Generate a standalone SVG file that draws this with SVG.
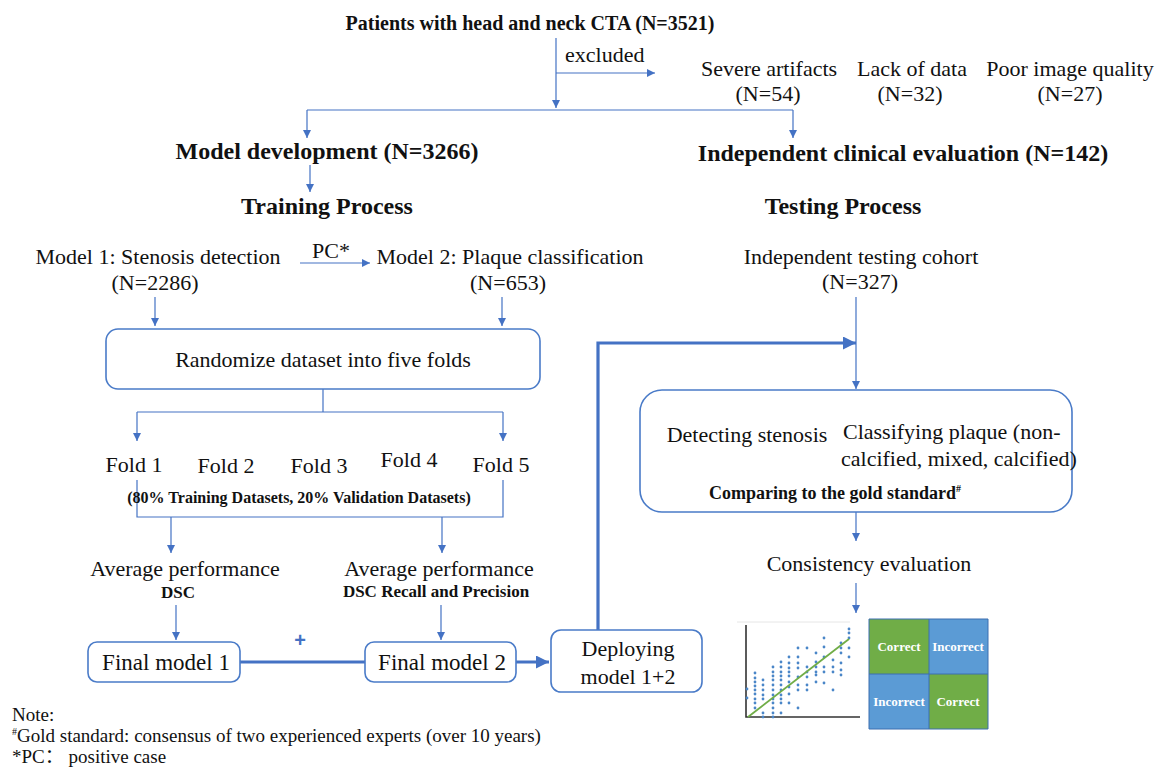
<svg xmlns="http://www.w3.org/2000/svg" width="1156" height="768" viewBox="0 0 1156 768">
<defs>
<style>
text{font-family:"Liberation Serif","Times New Roman","Noto Sans CJK SC",serif;fill:#111;}
.r{font-size:22px;}
.b{font-size:24px;font-weight:bold;}
.s{font-size:17px;font-weight:bold;}
.n{font-size:19px;}
.c{font-size:13px;font-weight:bold;fill:#fff;}
.m{text-anchor:middle;}
.ln{stroke:#4472c4;stroke-width:1.2;fill:none;}
.th{stroke:#4472c4;stroke-width:3.2;fill:none;}
.box{stroke:#4a7bc8;stroke-width:1.6;fill:#fff;}
.dot{fill:#4a86c8;}
</style>
<marker id="a" viewBox="0 0 10 10" refX="10" refY="5" markerWidth="8" markerHeight="8" markerUnits="userSpaceOnUse" orient="auto"><path d="M0,0 L10,5 L0,10 z" fill="#4472c4"/></marker>
<marker id="A" viewBox="0 0 10 10" refX="10" refY="5" markerWidth="13" markerHeight="13" markerUnits="userSpaceOnUse" orient="auto"><path d="M0,0 L10,5 L0,10 z" fill="#4472c4"/></marker>
</defs>
<rect width="1156" height="768" fill="#fff"/>

<g id="connectors">
<path class="ln" d="M556,38 V108" marker-end="url(#a)"/>
<path class="ln" d="M556,73 H655" marker-end="url(#a)"/>
<path class="ln" d="M307,110 H793"/>
<path class="ln" d="M307,110 V138" marker-end="url(#a)"/>
<path class="ln" d="M793,110 V138" marker-end="url(#a)"/>
<path class="ln" d="M310,165 V192" marker-end="url(#a)"/>
<path class="ln" d="M300,263 H370" marker-end="url(#a)"/>
<path class="ln" d="M155,297 V326" marker-end="url(#a)"/>
<path class="ln" d="M502,297 V326" marker-end="url(#a)"/>
<path class="ln" d="M323,389 V412"/>
<path class="ln" d="M137,412 H503"/>
<path class="ln" d="M137,412 V441" marker-end="url(#a)"/>
<path class="ln" d="M503,412 V441" marker-end="url(#a)"/>
<path class="ln" d="M137,480 V517 H503 V480"/>
<path class="ln" d="M171,517 V553" marker-end="url(#a)"/>
<path class="ln" d="M442,517 V553" marker-end="url(#a)"/>
<path class="ln" d="M176,605 V640" marker-end="url(#a)"/>
<path class="ln" d="M441,605 V640" marker-end="url(#a)"/>
<path class="th" d="M240,662 H365"/>
<path class="th" d="M516,662 H549" marker-end="url(#A)"/>
<path class="th" d="M598,630 V343 H856" marker-end="url(#A)"/>
<path class="ln" d="M856,297 V389" marker-end="url(#a)"/>
<path class="ln" d="M856,512 V541" marker-end="url(#a)"/>
<path class="ln" d="M856,583 V613" marker-end="url(#a)"/>
</g>

<g id="title"><text class="m" x="530" y="30" style="font-size:20px;font-weight:bold">Patients with head and neck CTA (N=3521)</text></g>
<g id="excluded"><text class="r" x="565" y="62">excluded</text></g>
<g id="severe"><text class="r m" x="769" y="76">Severe artifacts</text><text class="r m" x="768" y="101">(N=54)</text></g>
<g id="lack"><text class="r m" x="912" y="76">Lack of data</text><text class="r m" x="910" y="101">(N=32)</text></g>
<g id="poor"><text class="r m" x="1070" y="76">Poor image quality</text><text class="r m" x="1070" y="101">(N=27)</text></g>

<g id="model-dev"><text class="b m" x="327" y="159">Model development (N=3266)</text></g>
<g id="training"><text class="b m" x="327" y="214">Training Process</text></g>
<g id="indep"><text class="b m" x="903" y="161">Independent clinical evaluation (N=142)</text></g>
<g id="testing"><text class="b m" x="843" y="214">Testing Process</text></g>

<g id="model1"><text class="r m" x="158" y="264">Model 1: Stenosis detection</text><text class="r m" x="155" y="290">(N=2286)</text></g>
<g id="pc"><text class="r" x="312" y="258">PC*</text></g>
<g id="model2"><text class="r m" x="510" y="264">Model 2: Plaque classification</text><text class="r m" x="508" y="290">(N=653)</text></g>

<g id="randomize"><rect class="box" x="106" y="329" width="434" height="60" rx="12"/><text class="r m" x="323" y="367">Randomize dataset into five folds</text></g>

<g id="folds">
<text class="r m" x="134" y="472">Fold 1</text>
<text class="r m" x="226" y="473">Fold 2</text>
<text class="r m" x="319" y="473">Fold 3</text>
<text class="r m" x="409" y="467">Fold 4</text>
<text class="r m" x="501" y="472">Fold 5</text>
<text class="m" x="299" y="503" style="font-size:16px;font-weight:bold">(80% Training Datasets, 20% Validation Datasets)</text>
</g>

<g id="avg1"><text class="r m" x="185" y="576">Average performance</text><text class="s m" x="178" y="598">DSC</text></g>
<g id="avg2"><text class="r m" x="439" y="576">Average performance</text><text class="s m" x="436" y="597">DSC Recall and Precision</text></g>

<g id="final1"><rect class="box" x="88" y="642" width="152" height="40" rx="9"/><text class="m" x="166" y="670" style="font-size:23px">Final model 1</text></g>
<g id="plus"><text class="m" x="300" y="647" style="font-family:'Liberation Sans',Arial,sans-serif;font-size:20px;font-weight:bold;fill:#4472c4">+</text></g>
<g id="final2"><rect class="box" x="365" y="642" width="151" height="40" rx="9"/><text class="m" x="442" y="670" style="font-size:23px">Final model 2</text></g>
<g id="deploy"><rect class="box" x="551" y="630" width="151" height="62" rx="10"/><text class="r m" x="628" y="656">Deploying</text><text class="r m" x="628" y="684">model 1+2</text></g>

<g id="cohort"><text class="r m" x="861" y="264">Independent testing cohort</text><text class="r m" x="860" y="289">(N=327)</text></g>

<g id="evalbox"><rect class="box" x="640" y="390" width="432" height="122" rx="22"/>
<text class="r m" x="747" y="442">Detecting stenosis</text>
<text class="r" x="843" y="439">Classifying plaque (non-</text>
<text class="r" x="841" y="466">calcified, mixed, calcified)</text>
<text class="m" x="835" y="499" style="font-size:18px;font-weight:bold">Comparing to the gold standard<tspan style="font-size:10px" dy="-7">#</tspan></text>
</g>

<g id="consistency"><text class="r m" x="869" y="571">Consistency evaluation</text></g>

<g id="scatter">
<path d="M737,622 H850" stroke="#e6e6e6" stroke-width="1" fill="none"/>
<path d="M746,625 V717 H860" stroke="#333" stroke-width="1.6" fill="none"/>
<g class="dot">
<circle cx="747" cy="689" r="1.4"/><circle cx="747" cy="698" r="1.4"/>
<circle cx="755" cy="673" r="1.4"/><circle cx="755" cy="678" r="1.4"/><circle cx="755" cy="682" r="1.4"/><circle cx="755" cy="686" r="1.4"/><circle cx="755" cy="690" r="1.4"/><circle cx="755" cy="694" r="1.4"/><circle cx="755" cy="699" r="1.4"/><circle cx="755" cy="703" r="1.4"/><circle cx="755" cy="708" r="1.4"/>
<circle cx="763" cy="680" r="1.4"/><circle cx="763" cy="685" r="1.4"/><circle cx="763" cy="690" r="1.4"/><circle cx="763" cy="695" r="1.4"/><circle cx="763" cy="699" r="1.4"/><circle cx="763" cy="713" r="1.4"/><circle cx="763" cy="717" r="1.4"/>
<circle cx="773" cy="667" r="1.4"/><circle cx="773" cy="672" r="1.4"/><circle cx="773" cy="676" r="1.4"/><circle cx="773" cy="680" r="1.4"/><circle cx="773" cy="685" r="1.4"/><circle cx="773" cy="690" r="1.4"/><circle cx="773" cy="695" r="1.4"/><circle cx="773" cy="699" r="1.4"/><circle cx="773" cy="703" r="1.4"/><circle cx="773" cy="708" r="1.4"/><circle cx="773" cy="713" r="1.4"/><circle cx="773" cy="717" r="1.4"/>
<circle cx="781" cy="662" r="1.4"/><circle cx="781" cy="667" r="1.4"/><circle cx="781" cy="672" r="1.4"/><circle cx="781" cy="676" r="1.4"/><circle cx="781" cy="680" r="1.4"/><circle cx="781" cy="685" r="1.4"/><circle cx="781" cy="690" r="1.4"/><circle cx="781" cy="695" r="1.4"/><circle cx="781" cy="699" r="1.4"/><circle cx="781" cy="703" r="1.4"/><circle cx="781" cy="713" r="1.4"/>
<circle cx="789" cy="657" r="1.4"/><circle cx="789" cy="663" r="1.4"/><circle cx="789" cy="668" r="1.4"/><circle cx="789" cy="672" r="1.4"/><circle cx="789" cy="676" r="1.4"/><circle cx="789" cy="682" r="1.4"/><circle cx="789" cy="687" r="1.4"/><circle cx="789" cy="694" r="1.4"/><circle cx="789" cy="703" r="1.4"/>
<circle cx="798" cy="648" r="1.4"/><circle cx="798" cy="657" r="1.4"/><circle cx="798" cy="663" r="1.4"/><circle cx="798" cy="668" r="1.4"/><circle cx="798" cy="677" r="1.4"/><circle cx="798" cy="685" r="1.4"/><circle cx="798" cy="690" r="1.4"/><circle cx="798" cy="708" r="1.4"/>
<circle cx="807" cy="648" r="1.4"/><circle cx="807" cy="667" r="1.4"/><circle cx="807" cy="672" r="1.4"/><circle cx="807" cy="677" r="1.4"/><circle cx="807" cy="685" r="1.4"/><circle cx="807" cy="690" r="1.4"/>
<circle cx="816" cy="653" r="1.4"/><circle cx="816" cy="662" r="1.4"/><circle cx="816" cy="667" r="1.4"/><circle cx="816" cy="672" r="1.4"/><circle cx="816" cy="675" r="1.4"/><circle cx="816" cy="682" r="1.4"/>
<circle cx="824" cy="638" r="1.4"/><circle cx="824" cy="647" r="1.4"/><circle cx="824" cy="657" r="1.4"/><circle cx="824" cy="667" r="1.4"/><circle cx="824" cy="672" r="1.4"/><circle cx="824" cy="683" r="1.4"/>
<circle cx="833" cy="660" r="1.4"/><circle cx="833" cy="667" r="1.4"/><circle cx="833" cy="672" r="1.4"/><circle cx="833" cy="690" r="1.4"/>
<circle cx="841" cy="643" r="1.4"/><circle cx="841" cy="648" r="1.4"/><circle cx="841" cy="653" r="1.4"/><circle cx="841" cy="663" r="1.4"/><circle cx="841" cy="670" r="1.4"/><circle cx="841" cy="675" r="1.4"/>
<circle cx="849" cy="629" r="1.4"/><circle cx="849" cy="633" r="1.4"/><circle cx="849" cy="638" r="1.4"/><circle cx="849" cy="648" r="1.4"/><circle cx="849" cy="657" r="1.4"/>
</g>
<path d="M748,717 L849,639" stroke="#70ad47" stroke-width="1.8" fill="none"/>
</g>

<g id="matrix">
<rect x="869" y="619" width="60" height="55" fill="#70ad47"/>
<rect x="929" y="619" width="59" height="55" fill="#5b9bd5"/>
<rect x="869" y="674" width="60" height="55" fill="#5b9bd5"/>
<rect x="929" y="674" width="59" height="55" fill="#70ad47"/>
<path d="M869,619 H988 V729 H869 Z M929,619 V729 M869,674 H988" stroke="#3d6fb0" stroke-width="1" fill="none"/>
<text class="c m" x="899" y="651">Correct</text>
<text class="c m" x="958" y="651">Incorrect</text>
<text class="c m" x="899" y="706">Incorrect</text>
<text class="c m" x="958" y="706">Correct</text>
</g>

<g id="note">
<text class="n" x="12" y="721">Note:</text>
<text class="n" x="12" y="742"><tspan style="font-size:10px" dy="-7">#</tspan><tspan dy="7">Gold standard: consensus of two experienced experts (over 10 years)</tspan></text>
<text class="n" x="12" y="763">*PC：  positive case</text>
</g>
</svg>
